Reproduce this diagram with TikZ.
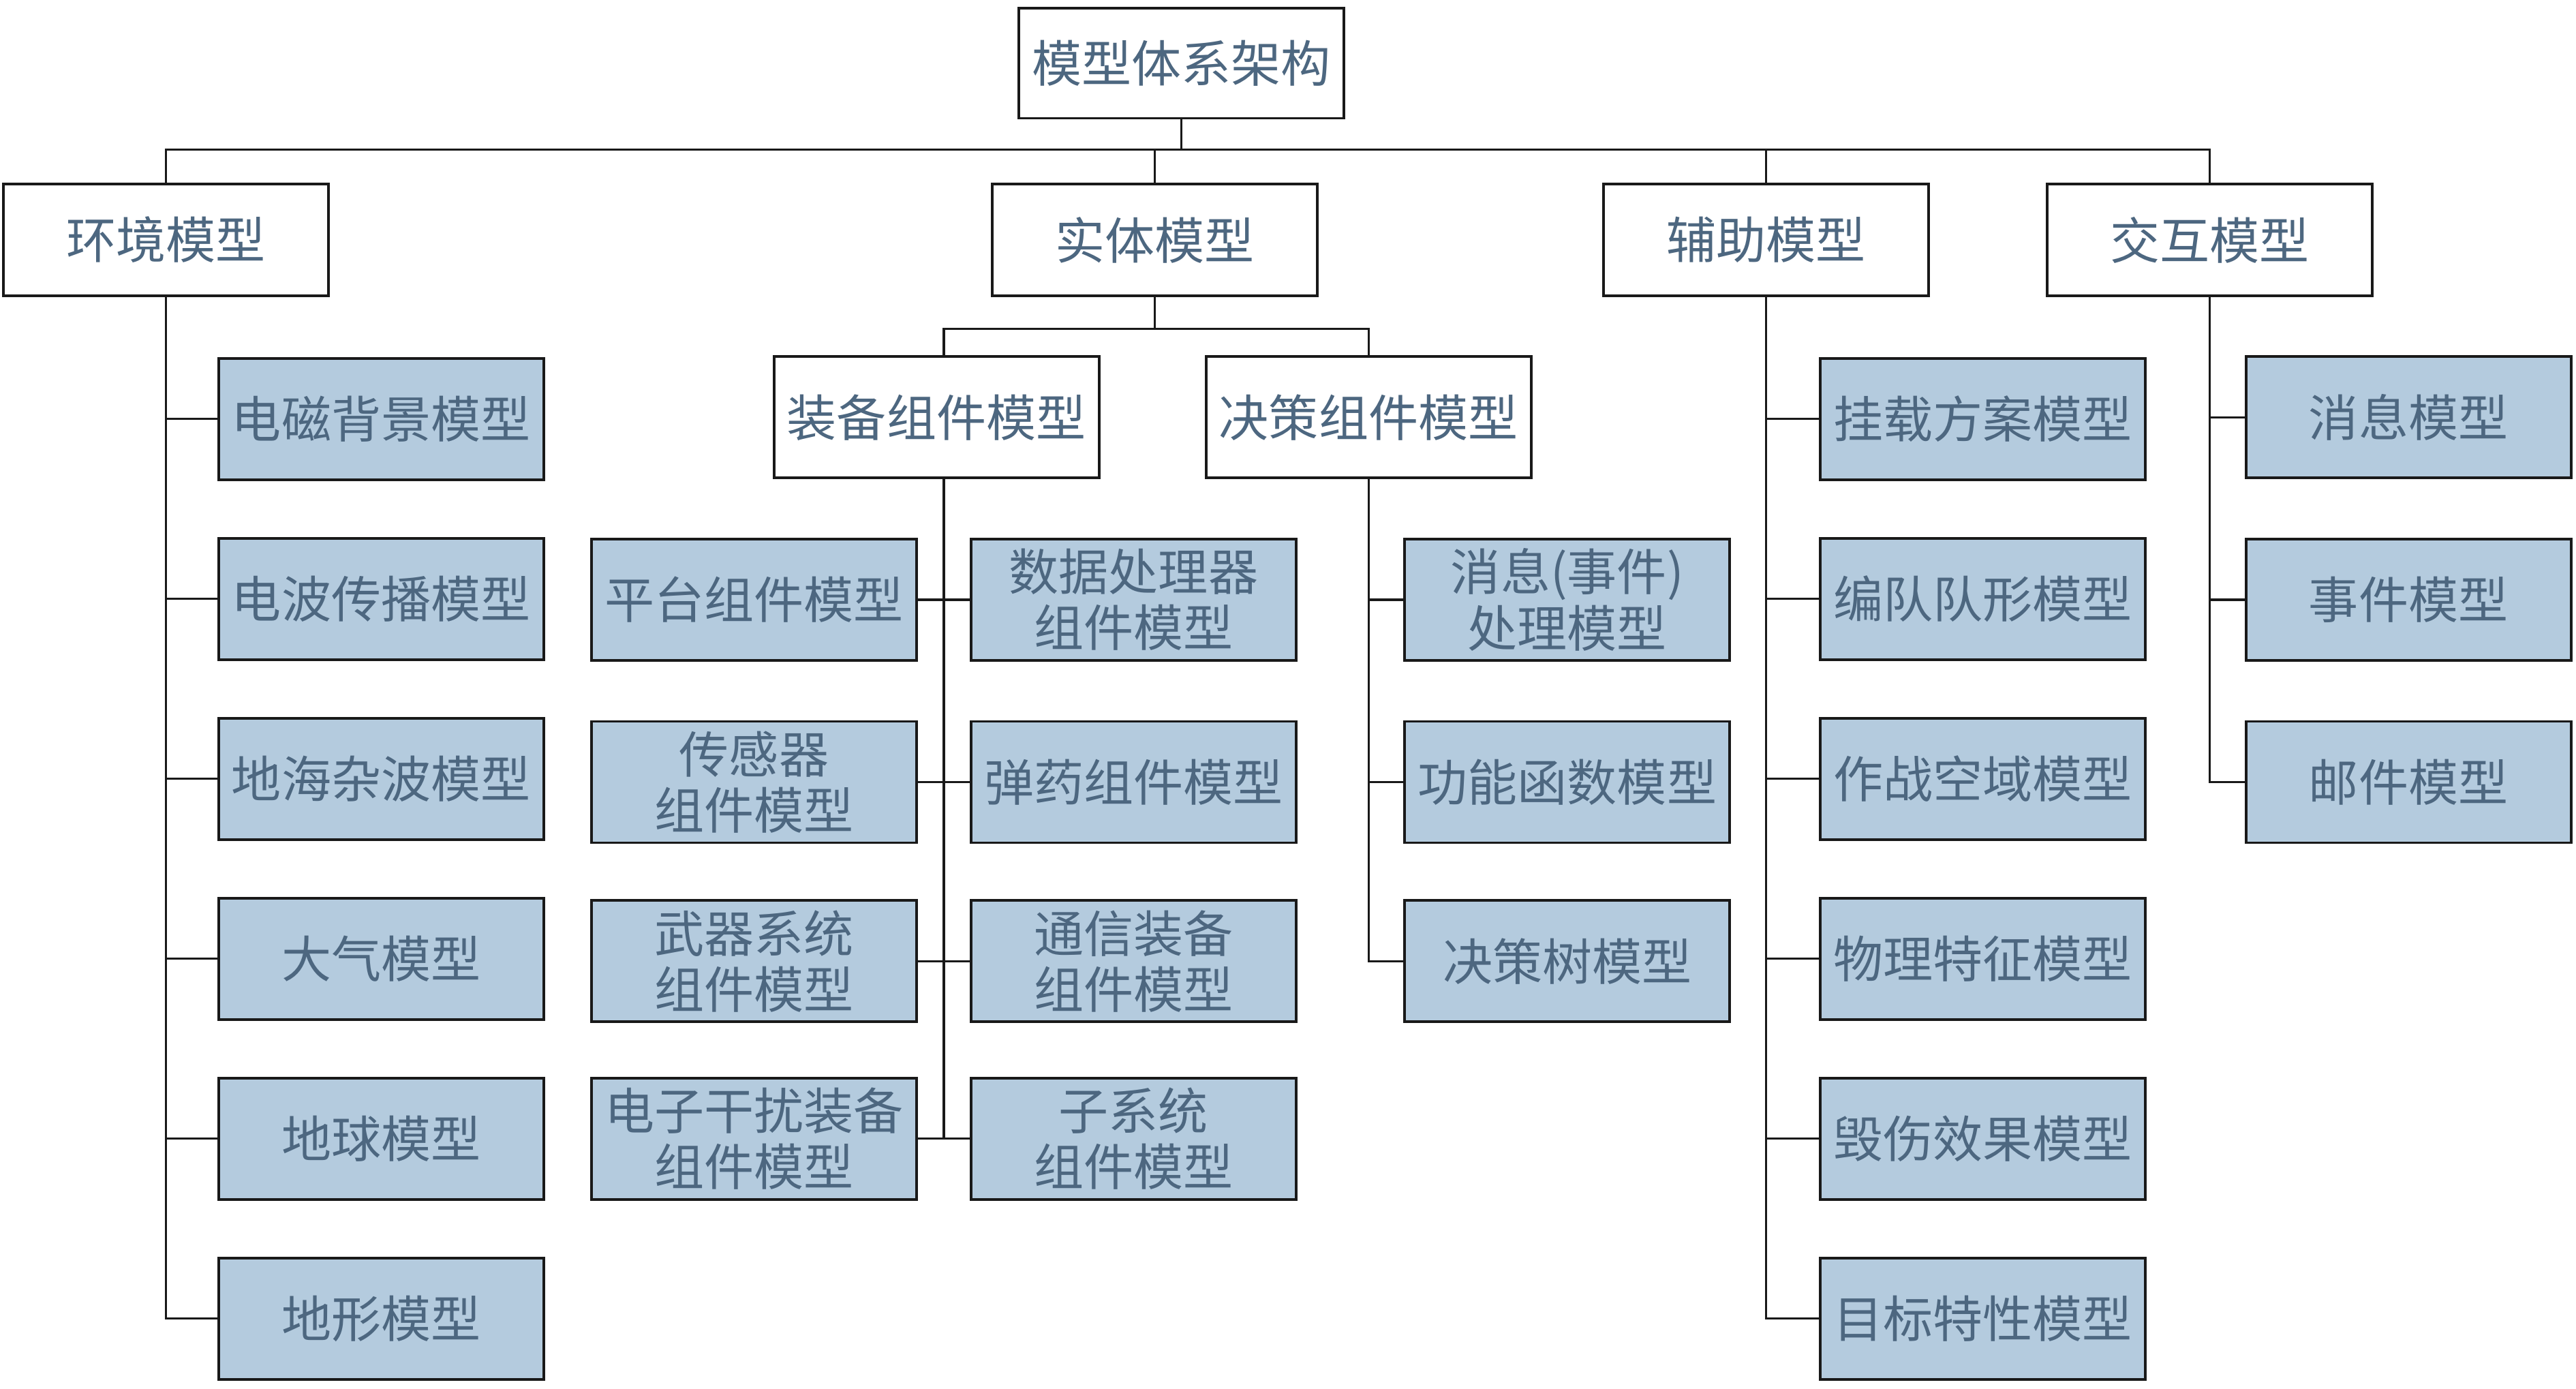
\documentclass[tikz,border=0pt]{standalone}
\usepackage{fontspec}
\usepackage{tikz}
\usepackage{xcolor}
\usetikzlibrary{calc}
\newfontfamily\cjk{Noto Sans CJK SC}
\definecolor{leaffill}{HTML}{B4CBDE}
\definecolor{labeltext}{HTML}{4D6780}

\begin{document}
\begin{tikzpicture}[x=0.24107mm, y=-0.24107mm,
    mbox/.style={draw=black!90, line width=1.1pt, fill=white, inner sep=0pt,
      minimum width=47.7mm, minimum height=16.4mm, align=center,
      text=labeltext, font=\cjk\fontsize{20.8pt}{23.4pt}\selectfont},
    leaf/.style={mbox, fill=leaffill, minimum height=17.8mm},
    link/.style={draw=black!90, line width=0.9pt}]
  \useasboundingbox (0,0) rectangle (1568,845);
  % top levels
  \node [mbox, minimum height=16.15mm] (root) at (719,38.5) {模型体系架构};
  \node [mbox] (env) at (101,146) {环境模型};
  \node [mbox] (ent) at (703,146) {实体模型};
  \node [mbox] (aux) at (1075,146) {辅助模型};
  \node [mbox] (inter) at (1345,146) {交互模型};
  \node [mbox, minimum height=17.8mm] (equip) at (570,254) {装备组件模型};
  \node [mbox, minimum height=17.8mm] (dec) at (833,254) {决策组件模型};
  % leaves
  \foreach \name [count=\i] in {电磁背景模型, 电波传播模型, 地海杂波模型, 大气模型, 地球模型, 地形模型}
    \node [leaf] (e\i) at (232, 145.5+109.5*\i) {\name};
  \node [leaf] (q1) at (459,365) {平台组件模型};
  \node [leaf] (q2) at (459,476) {传感器\\组件模型};
  \node [leaf] (q3) at (459,585) {武器系统\\组件模型};
  \node [leaf] (q4) at (459,693) {电子干扰装备\\组件模型};
  \node [leaf] (q5) at (690,365) {数据处理器\\组件模型};
  \node [leaf] (q6) at (690,476) {弹药组件模型};
  \node [leaf] (q7) at (690,585) {通信装备\\组件模型};
  \node [leaf] (q8) at (690,693) {子系统\\组件模型};
  \node [leaf] (d1) at (954,365) {消息(事件)\\处理模型};
  \node [leaf] (d2) at (954,476) {功能函数模型};
  \node [leaf] (d3) at (954,585) {决策树模型};
  \foreach \name [count=\i] in {挂载方案模型, 编队队形模型, 作战空域模型, 物理特征模型, 毁伤效果模型, 目标特性模型}
    \node [leaf] (a\i) at (1207, 145.5+109.5*\i) {\name};
  \foreach \name [count=\i] in {消息模型, 事件模型, 邮件模型}
    \node [leaf] (i\i) at (1466, 143+111*\i) {\name};
  % connectors
  \coordinate (bus) at (0,91);
  \coordinate (ebus) at (0,200);
  \coordinate (qx) at ($(q1.east)!.5!(q5.west)$);
  \draw [link] (root.south) -- (root.south |- bus);
  \draw [link] (env.north) -- (env.north |- bus) -- (inter.north |- bus) -- (inter.north);
  \draw [link] (ent.north) -- (ent.north |- bus);
  \draw [link] (aux.north) -- (aux.north |- bus);
  \draw [link] (ent.south) -- (ent.south |- ebus);
  \draw [link] (qx |- equip.north) -- (qx |- ebus) -- (dec.north |- ebus) -- (dec.north);
  \draw [link] (env.south) |- (e6.west);
  \draw [link] (aux.south) |- (a6.west);
  \draw [link] (dec.south) |- (d3.west);
  \draw [link] (inter.south) |- (i3.west);
  \draw [link] (qx |- equip.south) -- (qx |- q4.east);
  \foreach \i in {1,...,5} {
    \draw [link] (e\i.west) -- (env.south |- e\i.west);
    \draw [link] (a\i.west) -- (aux.south |- a\i.west);
  }
  \foreach \i in {1,2} {
    \draw [link] (d\i.west) -- (dec.south |- d\i.west);
    \draw [link] (i\i.west) -- (inter.south |- i\i.west);
  }
  \foreach \i in {1,...,4}
    \draw [link] (q\i.east) -- (qx |- q\i.east);
  \foreach \i in {5,...,8}
    \draw [link] (q\i.west) -- (qx |- q\i.west);
\end{tikzpicture}
\end{document}
